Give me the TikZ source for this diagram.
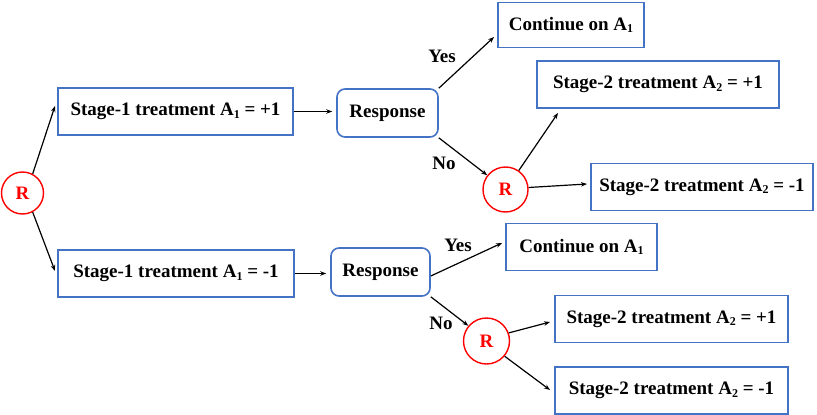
\documentclass[tikz,border=0pt]{standalone}
\usepackage{fontspec}
\setmainfont{Liberation Serif}
\usetikzlibrary{arrows.meta}
\definecolor{boxblue}{RGB}{68,114,196}
\tikzset{
  x=1pt,y=-1pt,
  every node/.style={font=\fontsize{19}{22}\selectfont\bfseries},
  sqbox/.style={draw=boxblue,line width=1.6pt,rectangle,inner sep=0pt,minimum width=#1,minimum height=47pt},
  rbox/.style={draw=boxblue,line width=1.6pt,rectangle,rounded corners=8pt,inner sep=0pt,minimum width=#1,minimum height=48pt},
  rcirc/.style={draw=red,line width=1.4pt,circle,inner sep=0pt,minimum size=#1,text=red},
  arr/.style={-{Stealth[length=6pt,width=4.5pt]},line width=1.2pt,black},
  lab/.style={text=black}
}
\newcommand{\sbx}[1]{\raisebox{-0.3ex}{\fontsize{12}{12}\selectfont #1}}
\begin{document}
\begin{tikzpicture}
\useasboundingbox (0,0) rectangle (817,415);
% nodes
\node[rcirc=42pt] (R0) at (22.5,193) {R};
\node[sqbox=235pt] (S1p) at (175.5,111.5) {Stage-1 treatment A\sbx{1} = +1};
\node[sqbox=236pt] (S1m) at (176,273.5) {Stage-1 treatment A\sbx{1} = -1};
\node[rbox=101pt] (Resp1) at (387.5,113) {Response};
\node[rbox=99pt] (Resp2) at (380.5,272) {Response};
\node[sqbox=146pt,minimum height=45pt] (C1) at (571,25) {Continue on A\sbx{1}};
\node[sqbox=242pt] (S2pt) at (658,84.5) {Stage-2 treatment A\sbx{2} = +1};
\node[rcirc=45pt] (R1) at (505.5,189.5) {R};
\node[sqbox=222pt] (S2mt) at (702,187) {Stage-2 treatment A\sbx{2} = -1};
\node[sqbox=151pt] (C2) at (581.5,247) {Continue on A\sbx{1}};
\node[rcirc=46pt] (R2) at (486.5,341) {R};
\node[sqbox=233pt] (S2pb) at (671.5,319) {Stage-2 treatment A\sbx{2} = +1};
\node[sqbox=233pt] (S2mb) at (671.5,390.5) {Stage-2 treatment A\sbx{2} = -1};
% connectors
\coordinate (a1) at (55,106);
\coordinate (a2) at (55,271);
\draw[arr] (R0.62) -- (a1);
\draw[arr] (R0.-62) -- (a2);
\draw[arr,shorten >=4pt] (S1p.east) -- (S1p.east -| Resp1.west);
\draw[arr,shorten >=4pt] (S1m.east) -- (S1m.east -| Resp2.west);
\coordinate (c1) at (494,37);
\draw[arr] (Resp1.north east) -- (c1);
\draw[arr] (Resp1.south east) -- (R1.142);
\coordinate (c2) at (558,113);
\draw[arr] (R1.55) -- (c2);
\coordinate (c3) at (587,184);
\draw[arr] (R1.5) -- (c3);
\coordinate (c4) at (502,243);
\draw[arr] ([yshift=-4pt]Resp2.east) -- (c4);
\draw[arr] (Resp2.south east) -- (R2.140);
\coordinate (c5) at (550,322);
\draw[arr] (R2.20) -- (c5);
\coordinate (c6) at (550,390);
\draw[arr] (R2.-40) -- (c6);
% labels
\node[lab] (ly1) at (442,56) {Yes};
\node[lab] (ln1) at (444,163) {No};
\node[lab] (ly2) at (458,245) {Yes};
\node[lab] (ln2) at (441,323) {No};
\end{tikzpicture}
\end{document}
